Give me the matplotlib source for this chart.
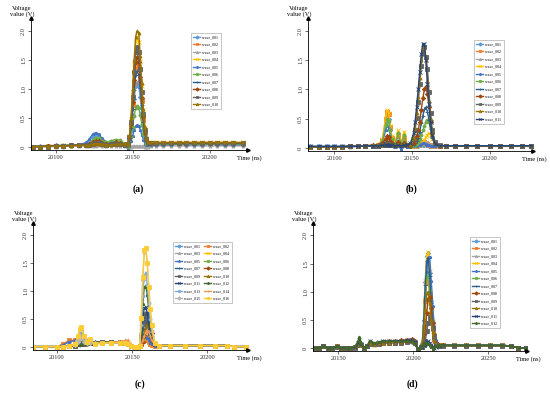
import matplotlib.pyplot as plt

plt.rcParams['font.family'] = ['Liberation Serif', 'DejaVu Serif']

# couleurs et marqueurs des vagues (palette type Excel)
colors = ['#5B9BD5', '#ED7D31', '#A5A5A5', '#FFC000', '#4472C4', '#70AD47', '#255E91', '#9E480E',
          '#636363', '#997300', '#264478', '#43682B', '#7CAFDD', '#F1975A', '#B7B7B7', '#FFCD33']
markers = ['D', 's', '^', 'x', '*', 'o', '+', 'D', 's', '^', 'x', '*', 'o', '+', 'D', 's']

# ---------------- (a) ----------------
a_time = [20085, 20090, 20095, 20100, 20105, 20110, 20115, 20120,
          20122, 20124, 20126, 20128, 20130, 20133, 20136, 20139, 20142, 20145,
          20147, 20148, 20149, 20150, 20151, 20152, 20153, 20154, 20155, 20156, 20157, 20158, 20159, 20160,
          20162,
          20165, 20170, 20175, 20180, 20185, 20190, 20195, 20200, 20205, 20210, 20215, 20222]
a_w01 = [0.01, 0.02, 0.02, 0.03, 0.02, 0.04, 0.03, 0.05,
         0.10, 0.18, 0.21, 0.18, 0.11, 0.07, 0.08, 0.06, 0.05, 0.04,
         0.03, 0.11, 0.28, 0.55, 0.83, 1.05, 1.10, 1.05, 0.86, 0.61, 0.36, 0.19, 0.09, 0.05,
         0.05,
         0.05, 0.05, 0.06, 0.05, 0.05, 0.06, 0.05, 0.06, 0.05, 0.05, 0.06, 0.05]
a_w02 = [0.01, 0.01, 0.02, 0.02, 0.02, 0.03, 0.03, 0.04,
         0.04, 0.06, 0.08, 0.07, 0.05, 0.04, 0.05, 0.06, 0.05, 0.04,
         0.04, 0.15, 0.36, 0.73, 1.09, 1.38, 1.45, 1.38, 1.13, 0.80, 0.48, 0.25, 0.12, 0.06,
         0.06,
         0.06, 0.06, 0.07, 0.06, 0.06, 0.07, 0.06, 0.06, 0.07, 0.06, 0.06, 0.06]
a_w03 = [0.01, 0.01, 0.01, 0.01, 0.01, 0.02, 0.02, 0.02,
         0.02, 0.02, 0.02, 0.03, 0.02, 0.02, 0.02, 0.02, 0.02, 0.02,
         0.01, 0.01, 0.01, 0.02, 0.02, 0.02, 0.02, 0.02, 0.02, 0.02, 0.02, 0.01, 0.01, 0.01,
         0.02,
         0.02, 0.02, 0.02, 0.02, 0.02, 0.02, 0.02, 0.02, 0.02, 0.02, 0.02, 0.02]
a_w04 = [0.01, 0.01, 0.02, 0.02, 0.03, 0.03, 0.03, 0.04,
         0.04, 0.06, 0.07, 0.07, 0.05, 0.05, 0.06, 0.07, 0.06, 0.05,
         0.06, 0.19, 0.48, 0.95, 1.43, 1.80, 1.90, 1.80, 1.48, 1.05, 0.63, 0.32, 0.15, 0.08,
         0.08,
         0.08, 0.08, 0.08, 0.09, 0.08, 0.08, 0.09, 0.08, 0.08, 0.09, 0.08, 0.08]
a_w05 = [0.01, 0.01, 0.02, 0.03, 0.03, 0.03, 0.04, 0.08,
         0.14, 0.22, 0.25, 0.22, 0.15, 0.09, 0.10, 0.09, 0.06, 0.03,
         -0.03, 0.02, 0.10, 0.19, 0.29, 0.36, 0.38, 0.36, 0.30, 0.21, 0.13, 0.06, 0.04, 0.04,
         0.04,
         0.04, 0.04, 0.04, 0.05, 0.04, 0.04, 0.04, 0.05, 0.04, 0.04, 0.04, 0.04]
a_w06 = [0.01, 0.01, 0.02, 0.02, 0.03, 0.03, 0.03, 0.04,
         0.06, 0.12, 0.16, 0.15, 0.10, 0.08, 0.11, 0.13, 0.12, 0.06,
         0.00, 0.07, 0.18, 0.35, 0.53, 0.67, 0.70, 0.67, 0.55, 0.39, 0.23, 0.12, 0.06, 0.05,
         0.05,
         0.05, 0.05, 0.05, 0.05, 0.06, 0.05, 0.05, 0.05, 0.05, 0.06, 0.05, 0.05]
a_w07 = [0.01, 0.01, 0.02, 0.02, 0.02, 0.03, 0.03, 0.04,
         0.05, 0.08, 0.10, 0.09, 0.06, 0.05, 0.06, 0.07, 0.06, 0.05,
         0.04, 0.13, 0.33, 0.65, 0.98, 1.24, 1.30, 1.24, 1.01, 0.72, 0.43, 0.22, 0.10, 0.06,
         0.06,
         0.06, 0.06, 0.06, 0.06, 0.06, 0.06, 0.06, 0.06, 0.06, 0.06, 0.06, 0.06]
a_w08 = [0.01, 0.01, 0.02, 0.02, 0.02, 0.03, 0.03, 0.04,
         0.05, 0.08, 0.10, 0.10, 0.07, 0.05, 0.06, 0.08, 0.07, 0.05,
         0.05, 0.16, 0.39, 0.78, 1.16, 1.47, 1.55, 1.47, 1.21, 0.85, 0.51, 0.26, 0.12, 0.07,
         0.07,
         0.07, 0.07, 0.07, 0.07, 0.07, 0.07, 0.07, 0.07, 0.07, 0.07, 0.07, 0.07]
a_w09 = [0.01, 0.01, 0.01, 0.02, 0.02, 0.03, 0.03, 0.03,
         0.04, 0.06, 0.07, 0.07, 0.05, 0.04, 0.05, 0.06, 0.05, 0.04,
         0.05, 0.17, 0.43, 0.86, 1.29, 1.63, 1.72, 1.63, 1.34, 0.95, 0.57, 0.29, 0.14, 0.07,
         0.07,
         0.07, 0.07, 0.07, 0.07, 0.07, 0.07, 0.07, 0.07, 0.07, 0.07, 0.07, 0.07]
a_w10 = [0.01, 0.01, 0.01, 0.02, 0.02, 0.02, 0.03, 0.03,
         0.03, 0.05, 0.06, 0.06, 0.05, 0.04, 0.04, 0.05, 0.05, 0.05,
         0.06, 0.20, 0.50, 1.00, 1.50, 1.90, 2.00, 1.97, 1.56, 1.10, 0.66, 0.34, 0.16, 0.08,
         0.08,
         0.08, 0.08, 0.08, 0.08, 0.08, 0.08, 0.08, 0.08, 0.08, 0.08, 0.08, 0.08]
a_waves = [a_w01, a_w02, a_w03, a_w04, a_w05, a_w06, a_w07, a_w08, a_w09, a_w10]

# ---------------- (b) ----------------
b_time = [20084, 20090, 20095, 20100, 20105, 20110, 20115, 20120, 20125,
          20128, 20131, 20133, 20134, 20135, 20136, 20137, 20139, 20141, 20143, 20145, 20147,
          20149, 20151, 20152, 20153, 20154, 20155, 20156, 20157, 20158, 20159, 20160, 20161, 20162, 20163, 20165, 20168,
          20172, 20178, 20185, 20192, 20200, 20207, 20214, 20221, 20227]
b_w01 = [0.03, 0.03, 0.03, 0.03, 0.03, 0.03, 0.03, 0.03, 0.04,
         0.05, 0.12, 0.42, 0.55, 0.50, 0.30, 0.15, 0.05, 0.20, 0.06, 0.15, 0.04,
         0.03, 0.03, 0.03, 0.04, 0.04, 0.05, 0.05, 0.06, 0.06, 0.05, 0.05, 0.04, 0.04, 0.03, 0.03, 0.03,
         0.03, 0.03, 0.03, 0.03, 0.03, 0.03, 0.03, 0.03, 0.03]
b_w02 = [0.02, 0.02, 0.02, 0.02, 0.02, 0.03, 0.03, 0.03, 0.04,
         0.05, 0.14, 0.50, 0.62, 0.58, 0.36, 0.18, 0.07, 0.22, 0.07, 0.18, 0.05,
         0.03, 0.03, 0.04, 0.05, 0.06, 0.08, 0.09, 0.10, 0.10, 0.09, 0.07, 0.06, 0.05, 0.04, 0.03, 0.03,
         0.03, 0.03, 0.03, 0.03, 0.03, 0.03, 0.03, 0.03, 0.03]
b_w03 = [0.02, 0.02, 0.02, 0.02, 0.02, 0.02, 0.03, 0.03, 0.03,
         0.04, 0.05, 0.08, 0.10, 0.09, 0.07, 0.05, 0.04, 0.06, 0.04, 0.05, 0.04,
         0.03, 0.03, 0.04, 0.05, 0.06, 0.08, 0.10, 0.11, 0.12, 0.11, 0.09, 0.07, 0.05, 0.04, 0.03, 0.03,
         0.03, 0.03, 0.03, 0.03, 0.03, 0.03, 0.03, 0.03, 0.03]
b_w04 = [0.02, 0.02, 0.02, 0.02, 0.02, 0.03, 0.03, 0.03, 0.04,
         0.05, 0.15, 0.52, 0.65, 0.60, 0.38, 0.20, 0.08, 0.30, 0.10, 0.28, 0.06,
         0.03, 0.03, 0.04, 0.04, 0.05, 0.06, 0.08, 0.10, 0.14, 0.19, 0.23, 0.25, 0.22, 0.15, 0.07, 0.04,
         0.04, 0.03, 0.03, 0.03, 0.03, 0.03, 0.03, 0.03, 0.03]
b_w05 = [0.02, 0.02, 0.02, 0.02, 0.02, 0.02, 0.03, 0.03, 0.03,
         0.04, 0.10, 0.30, 0.38, 0.35, 0.22, 0.10, 0.02, 0.12, -0.02, 0.10, 0.02,
         0.02, 0.03, 0.03, 0.04, 0.05, 0.06, 0.07, 0.08, 0.08, 0.07, 0.06, 0.05, 0.04, 0.03, 0.03, 0.03,
         0.03, 0.03, 0.03, 0.03, 0.03, 0.03, 0.03, 0.03, 0.03]
b_w06 = [0.02, 0.02, 0.02, 0.02, 0.02, 0.03, 0.03, 0.03, 0.04,
         0.05, 0.12, 0.40, 0.50, 0.47, 0.30, 0.15, 0.06, 0.25, 0.08, 0.22, 0.05,
         0.03, 0.04, 0.05, 0.07, 0.10, 0.15, 0.22, 0.30, 0.38, 0.45, 0.48, 0.44, 0.34, 0.20, 0.08, 0.04,
         0.04, 0.03, 0.03, 0.03, 0.03, 0.03, 0.03, 0.03, 0.03]
b_w07 = [0.02, 0.02, 0.02, 0.02, 0.02, 0.03, 0.03, 0.03, 0.04,
         0.04, 0.06, 0.10, 0.12, 0.11, 0.08, 0.06, 0.04, 0.08, 0.04, 0.06, 0.04,
         0.03, 0.05, 0.08, 0.12, 0.18, 0.28, 0.42, 0.55, 0.66, 0.70, 0.62, 0.48, 0.32, 0.18, 0.07, 0.04,
         0.04, 0.04, 0.03, 0.03, 0.03, 0.03, 0.03, 0.03, 0.03]
b_w08 = [0.02, 0.02, 0.02, 0.02, 0.02, 0.03, 0.03, 0.04, 0.05,
         0.05, 0.08, 0.16, 0.20, 0.19, 0.12, 0.08, 0.05, 0.10, 0.05, 0.08, 0.05,
         0.04, 0.08, 0.13, 0.20, 0.30, 0.45, 0.65, 0.85, 1.00, 1.05, 0.92, 0.70, 0.45, 0.25, 0.08, 0.04,
         0.04, 0.04, 0.04, 0.03, 0.03, 0.03, 0.03, 0.03, 0.03]
b_w09 = [0.02, 0.02, 0.02, 0.02, 0.02, 0.03, 0.03, 0.04, 0.04,
         0.04, 0.05, 0.06, 0.07, 0.07, 0.06, 0.05, 0.05, 0.05, 0.05, 0.06, 0.05,
         0.05, 0.15, 0.30, 0.52, 0.78, 1.10, 1.40, 1.62, 1.72, 1.55, 1.35, 0.95, 0.60, 0.30, 0.10, 0.05,
         0.04, 0.04, 0.04, 0.04, 0.03, 0.03, 0.03, 0.03, 0.03]
b_w10 = [0.02, 0.02, 0.02, 0.02, 0.02, 0.03, 0.03, 0.04, 0.05,
         0.05, 0.06, 0.06, 0.07, 0.07, 0.07, 0.06, 0.06, 0.07, 0.06, 0.07, 0.06,
         0.06, 0.18, 0.35, 0.60, 0.88, 1.20, 1.50, 1.72, 1.75, 1.50, 1.15, 0.80, 0.50, 0.25, 0.08, 0.04,
         0.04, 0.04, 0.04, 0.04, 0.04, 0.04, 0.04, 0.04, 0.04]
b_w11 = [0.03, 0.03, 0.03, 0.03, 0.03, 0.03, 0.03, 0.04, 0.04,
         0.04, 0.05, 0.05, 0.06, 0.06, 0.05, 0.05, 0.04, 0.05, 0.04, 0.05, 0.05,
         0.08, 0.25, 0.45, 0.70, 1.00, 1.30, 1.60, 1.78, 1.78, 1.50, 1.10, 0.75, 0.45, 0.22, 0.07, 0.04,
         0.04, 0.04, 0.04, 0.04, 0.04, 0.04, 0.04, 0.04, 0.04]
b_waves = [b_w01, b_w02, b_w03, b_w04, b_w05, b_w06, b_w07, b_w08, b_w09, b_w10, b_w11]

# ---------------- (c) ----------------
c_time = [20084, 20092, 20100,
          20104, 20108, 20112, 20114, 20115, 20116, 20118, 20120, 20122, 20125,
          20130, 20136, 20142, 20145, 20147, 20149, 20152, 20154,
          20155, 20156, 20157, 20158, 20159, 20160, 20161, 20162, 20163, 20165, 20168,
          20175, 20185, 20195, 20205, 20213, 20218, 20226]
c_w01 = [0.01, 0.01, 0.01,
         0.03, 0.10, 0.12, 0.20, 0.28, 0.30, 0.18, 0.10, 0.10, 0.09,
         0.09, 0.09, 0.08, 0.07, 0.05, 0.02, 0.01, 0.01,
         0.02, 0.15, 0.35, 0.49, 0.50, 0.43, 0.30, 0.19, 0.11, 0.04, 0.03,
         0.03, 0.03, 0.03, 0.03, 0.03, 0.01, 0.01]
c_w02 = [0.01, 0.01, 0.01,
         0.06, 0.12, 0.12, 0.12, 0.11, 0.10, 0.09, 0.09, 0.08, 0.08,
         0.08, 0.08, 0.08, 0.07, 0.05, 0.02, 0.01, 0.01,
         0.02, 0.05, 0.11, 0.15, 0.15, 0.13, 0.09, 0.06, 0.04, 0.03, 0.03,
         0.03, 0.03, 0.03, 0.03, 0.03, 0.01, 0.01]
c_w03 = [0.01, 0.01, 0.01,
         0.01, 0.02, 0.04, 0.08, 0.12, 0.12, 0.08, 0.06, 0.07, 0.07,
         0.08, 0.08, 0.09, 0.08, 0.06, 0.03, 0.01, 0.01,
         0.02, 0.09, 0.21, 0.29, 0.30, 0.26, 0.18, 0.11, 0.07, 0.04, 0.03,
         0.03, 0.03, 0.03, 0.03, 0.03, 0.01, 0.01]
c_w04 = [0.01, 0.01, 0.01,
         0.01, 0.02, 0.05, 0.12, 0.20, 0.22, 0.12, 0.08, 0.12, 0.07,
         0.08, 0.09, 0.09, 0.08, 0.05, 0.02, 0.01, 0.00,
         0.02, 0.08, 0.18, 0.24, 0.25, 0.21, 0.15, 0.10, 0.06, 0.04, 0.03,
         0.03, 0.03, 0.03, 0.03, 0.03, 0.01, 0.01]
c_w05 = [0.01, 0.01, 0.01,
         0.04, 0.10, 0.12, 0.18, 0.24, 0.25, 0.15, 0.10, 0.09, 0.08,
         0.08, 0.08, 0.08, 0.07, 0.05, 0.02, 0.01, 0.01,
         0.02, 0.06, 0.14, 0.19, 0.20, 0.17, 0.12, 0.08, 0.05, 0.03, 0.03,
         0.03, 0.03, 0.03, 0.03, 0.03, 0.01, 0.01]
c_w06 = [0.01, 0.01, 0.01,
         0.01, 0.02, 0.04, 0.10, 0.15, 0.12, 0.08, 0.06, 0.08, 0.08,
         0.08, 0.09, 0.09, 0.08, 0.05, 0.02, 0.01, 0.00,
         0.02, 0.06, 0.15, 0.26, 0.33, 0.35, 0.30, 0.20, 0.12, 0.05, 0.03,
         0.03, 0.03, 0.03, 0.03, 0.03, 0.01, 0.01]
c_w07 = [0.01, 0.01, 0.01,
         0.01, 0.02, 0.03, 0.06, 0.08, 0.08, 0.07, 0.06, 0.07, 0.08,
         0.09, 0.09, 0.09, 0.08, 0.05, 0.02, 0.01, 0.01,
         0.02, 0.14, 0.32, 0.44, 0.45, 0.38, 0.27, 0.17, 0.10, 0.04, 0.03,
         0.03, 0.03, 0.03, 0.03, 0.03, 0.01, 0.01]
c_w08 = [0.01, 0.01, 0.01,
         0.01, 0.02, 0.03, 0.05, 0.07, 0.07, 0.06, 0.07, 0.08, 0.08,
         0.09, 0.09, 0.09, 0.08, 0.06, 0.02, 0.01, 0.00,
         0.02, 0.04, 0.10, 0.20, 0.32, 0.40, 0.42, 0.35, 0.25, 0.08, 0.03,
         0.03, 0.03, 0.03, 0.03, 0.03, 0.01, 0.01]
c_w09 = [0.01, 0.01, 0.01,
         0.01, 0.02, 0.03, 0.05, 0.06, 0.06, 0.06, 0.07, 0.08, 0.08,
         0.09, 0.09, 0.08, 0.08, 0.05, 0.02, 0.01, 0.01,
         0.02, 0.18, 0.42, 0.58, 0.60, 0.51, 0.36, 0.23, 0.13, 0.05, 0.03,
         0.03, 0.03, 0.03, 0.03, 0.03, 0.01, 0.01]
c_w10 = [0.01, 0.01, 0.01,
         0.01, 0.02, 0.03, 0.05, 0.06, 0.06, 0.06, 0.07, 0.08, 0.09,
         0.09, 0.09, 0.09, 0.08, 0.06, 0.02, 0.01, 0.00,
         0.02, 0.05, 0.12, 0.22, 0.33, 0.40, 0.38, 0.30, 0.20, 0.07, 0.03,
         0.03, 0.03, 0.03, 0.03, 0.03, 0.01, 0.01]
c_w11 = [0.01, 0.01, 0.01,
         0.01, 0.02, 0.03, 0.04, 0.05, 0.05, 0.06, 0.07, 0.08, 0.08,
         0.09, 0.09, 0.09, 0.08, 0.05, 0.01, 0.00, 0.00,
         0.02, 0.22, 0.50, 0.70, 0.72, 0.61, 0.43, 0.27, 0.16, 0.05, 0.03,
         0.03, 0.03, 0.03, 0.03, 0.03, 0.01, 0.01]
c_w12 = [0.01, 0.01, 0.01,
         0.01, 0.02, 0.03, 0.05, 0.06, 0.06, 0.06, 0.07, 0.08, 0.09,
         0.09, 0.10, 0.09, 0.08, 0.04, 0.01, 0.00, 0.00,
         0.02, 0.33, 0.77, 1.07, 1.10, 0.94, 0.66, 0.42, 0.24, 0.07, 0.03,
         0.03, 0.03, 0.03, 0.03, 0.03, 0.01, 0.01]
c_w13 = [0.01, 0.01, 0.01,
         0.01, 0.02, 0.05, 0.15, 0.25, 0.30, 0.15, 0.08, 0.10, 0.06,
         0.08, 0.08, 0.08, 0.07, 0.05, 0.02, 0.01, 0.01,
         0.03, 0.40, 0.92, 1.28, 1.32, 1.12, 0.79, 0.50, 0.29, 0.07, 0.03,
         0.03, 0.03, 0.03, 0.03, 0.03, 0.01, 0.01]
c_w14 = [0.01, 0.01, 0.01,
         0.01, 0.02, 0.06, 0.20, 0.30, 0.35, 0.20, 0.12, 0.12, 0.06,
         0.08, 0.09, 0.10, 0.12, 0.13, 0.06, 0.01, 0.00,
         0.02, 0.05, 0.12, 0.20, 0.27, 0.30, 0.27, 0.20, 0.12, 0.05, 0.03,
         0.03, 0.03, 0.03, 0.03, 0.03, 0.01, 0.01]
c_w15 = [0.01, 0.01, 0.01,
         0.01, 0.02, 0.04, 0.10, 0.15, 0.18, 0.10, 0.07, 0.08, 0.07,
         0.08, 0.08, 0.08, 0.07, 0.05, 0.02, 0.01, 0.01,
         0.03, 0.50, 1.20, 1.70, 1.75, 1.50, 1.05, 0.66, 0.38, 0.08, 0.03,
         0.03, 0.03, 0.03, 0.03, 0.03, 0.01, 0.01]
c_w16 = [0.01, 0.01, 0.01,
         0.01, 0.02, 0.05, 0.20, 0.33, 0.37, 0.20, 0.10, 0.15, 0.05,
         0.07, 0.08, 0.08, 0.07, 0.05, 0.02, 0.01, 0.01,
         0.03, 0.53, 1.25, 1.73, 1.78, 1.51, 1.07, 0.68, 0.39, 0.08, 0.03,
         0.03, 0.03, 0.03, 0.03, 0.03, 0.01, 0.01]
c_waves = [c_w01, c_w02, c_w03, c_w04, c_w05, c_w06, c_w07, c_w08,
           c_w09, c_w10, c_w11, c_w12, c_w13, c_w14, c_w15, c_w16]

# ---------------- (d) ----------------
d_time = [20134, 20137, 20140, 20143, 20146, 20149, 20152, 20155, 20158,
          20161, 20163, 20164, 20165, 20167, 20169, 20171, 20174, 20177, 20180, 20184, 20188, 20192, 20196, 20199, 20201, 20203, 20205,
          20206, 20207, 20208, 20209, 20210, 20211, 20212, 20213, 20214, 20215, 20217,
          20220, 20227, 20235, 20243, 20251, 20259, 20265, 20270, 20275]
d_w01 = [0.00, 0.01, 0.04, 0.00, 0.01, 0.03, 0.00, 0.01, 0.01,
         0.02, 0.08, 0.12, 0.07, 0.01, 0.03, 0.10, 0.07, 0.09, 0.11, 0.10, 0.11, 0.10, 0.11, 0.11, 0.09, -0.02, 0.02,
         0.08, 0.50, 1.18, 1.63, 1.68, 1.34, 0.84, 0.47, 0.22, 0.07, 0.05,
         0.05, 0.05, 0.05, 0.05, 0.05, 0.05, 0.04, 0.01, 0.00]
d_w02 = [0.00, 0.01, 0.03, 0.00, 0.01, 0.03, 0.00, 0.01, 0.01,
         0.02, 0.06, 0.10, 0.06, 0.01, 0.03, 0.09, 0.07, 0.08, 0.10, 0.10, 0.10, 0.11, 0.12, 0.13, 0.10, -0.01, 0.02,
         0.06, 0.36, 0.84, 1.16, 1.20, 0.96, 0.60, 0.34, 0.16, 0.07, 0.05,
         0.05, 0.05, 0.05, 0.05, 0.05, 0.05, 0.04, 0.01, 0.00]
d_w03 = [0.00, 0.01, 0.03, 0.00, 0.01, 0.02, 0.00, 0.01, 0.01,
         0.01, 0.05, 0.08, 0.05, 0.01, 0.03, 0.08, 0.06, 0.08, 0.09, 0.09, 0.10, 0.10, 0.11, 0.11, 0.08, -0.02, 0.02,
         0.07, 0.42, 0.98, 1.36, 1.40, 1.12, 0.70, 0.39, 0.18, 0.07, 0.05,
         0.05, 0.05, 0.05, 0.05, 0.05, 0.05, 0.04, 0.01, 0.00]
d_w04 = [0.00, 0.01, 0.04, 0.00, 0.01, 0.03, 0.00, 0.01, 0.01,
         0.02, 0.07, 0.11, 0.06, 0.01, 0.03, 0.10, 0.06, 0.09, 0.10, 0.09, 0.10, 0.11, 0.12, 0.12, 0.09, -0.02, 0.02,
         0.08, 0.51, 1.19, 1.65, 1.70, 1.36, 0.85, 0.48, 0.22, 0.07, 0.05,
         0.05, 0.05, 0.05, 0.05, 0.05, 0.05, 0.04, 0.01, 0.00]
d_w05 = [0.00, 0.01, 0.04, 0.00, 0.01, 0.03, 0.00, 0.01, 0.01,
         0.02, 0.09, 0.14, 0.07, 0.01, 0.03, 0.12, 0.08, 0.10, 0.12, 0.11, 0.12, 0.12, 0.13, 0.14, 0.11, -0.03, 0.02,
         0.05, 0.30, 0.85, 1.35, 1.60, 1.62, 1.20, 0.75, 0.40, 0.15, 0.06,
         0.05, 0.05, 0.05, 0.05, 0.05, 0.05, 0.04, 0.01, 0.00]
d_w06 = [0.00, 0.01, 0.03, 0.00, 0.01, 0.03, 0.00, 0.01, 0.01,
         0.02, 0.06, 0.10, 0.06, 0.01, 0.03, 0.09, 0.07, 0.09, 0.10, 0.10, 0.11, 0.10, 0.11, 0.12, 0.09, -0.02, 0.02,
         0.06, 0.39, 0.91, 1.26, 1.30, 1.04, 0.65, 0.36, 0.17, 0.07, 0.05,
         0.05, 0.05, 0.05, 0.05, 0.05, 0.05, 0.04, 0.01, 0.00]
d_w07 = [0.00, 0.01, 0.04, 0.00, 0.01, 0.03, 0.00, 0.01, 0.01,
         0.02, 0.08, 0.13, 0.07, 0.01, 0.03, 0.11, 0.08, 0.10, 0.12, 0.12, 0.13, 0.12, 0.13, 0.14, 0.11, -0.02, 0.02,
         0.08, 0.48, 1.12, 1.55, 1.60, 1.28, 0.80, 0.45, 0.21, 0.07, 0.05,
         0.05, 0.05, 0.05, 0.05, 0.05, 0.05, 0.04, 0.01, 0.00]
d_w08 = [0.00, 0.01, 0.03, 0.00, 0.01, 0.03, 0.00, 0.01, 0.01,
         0.02, 0.06, 0.10, 0.06, 0.01, 0.03, 0.10, 0.08, 0.10, 0.11, 0.12, 0.13, 0.14, 0.15, 0.16, 0.12, -0.01, 0.02,
         0.03, 0.10, 0.27, 0.63, 0.87, 0.90, 0.72, 0.45, 0.25, 0.10, 0.05,
         0.05, 0.04, 0.04, 0.04, 0.04, 0.04, 0.04, 0.01, 0.00]
d_w09 = [0.00, 0.01, 0.03, 0.00, 0.01, 0.02, 0.00, 0.01, 0.01,
         0.01, 0.05, 0.08, 0.05, 0.01, 0.03, 0.08, 0.07, 0.08, 0.09, 0.09, 0.10, 0.10, 0.11, 0.12, 0.09, -0.01, 0.02,
         0.02, 0.05, 0.12, 0.30, 0.45, 0.55, 0.50, 0.35, 0.20, 0.08, 0.04,
         0.04, 0.04, 0.04, 0.04, 0.04, 0.04, 0.04, 0.01, 0.00]
d_w10 = [0.00, 0.01, 0.03, 0.00, 0.01, 0.03, 0.00, 0.01, 0.01,
         0.02, 0.07, 0.11, 0.06, 0.01, 0.03, 0.10, 0.07, 0.09, 0.10, 0.10, 0.11, 0.11, 0.12, 0.12, 0.10, -0.02, 0.02,
         0.05, 0.30, 0.70, 0.97, 1.00, 0.80, 0.50, 0.28, 0.13, 0.07, 0.05,
         0.05, 0.05, 0.05, 0.05, 0.05, 0.05, 0.04, 0.01, 0.00]
d_w11 = [0.00, 0.01, 0.04, 0.00, 0.01, 0.03, 0.00, 0.01, 0.01,
         0.02, 0.09, 0.15, 0.07, 0.01, 0.03, 0.12, 0.09, 0.11, 0.13, 0.12, 0.13, 0.13, 0.14, 0.14, 0.11, -0.02, 0.02,
         0.02, 0.05, 0.08, 0.11, 0.12, 0.10, 0.06, 0.03, 0.00, 0.02, 0.04,
         0.05, 0.05, 0.05, 0.05, 0.05, 0.05, 0.04, 0.01, 0.00]
d_w12 = [0.00, 0.01, 0.04, 0.00, 0.01, 0.03, 0.00, 0.01, 0.01,
         0.03, 0.12, 0.20, 0.10, 0.01, 0.04, 0.13, 0.09, 0.11, 0.13, 0.12, 0.12, 0.12, 0.13, 0.12, 0.09, -0.03, 0.02,
         0.03, 0.07, 0.10, 0.10, 0.08, 0.05, 0.02, -0.01, 0.02, 0.04, 0.05,
         0.05, 0.05, 0.05, 0.05, 0.05, 0.05, 0.04, 0.01, 0.00]
d_waves = [d_w01, d_w02, d_w03, d_w04, d_w05, d_w06, d_w07, d_w08, d_w09, d_w10, d_w11, d_w12]

y_ticks = [0, 0.5, 1.0, 1.5, 2.0]
y_tick_labels = ['0', '0.5', '1.0', '1.5', '2.0']

W, H = 550, 396
fig = plt.figure(figsize=(W / 100, H / 100), dpi=100)


def tracer(px, temps, vagues, xticks, xlim, leg_px, lettre, lettre_px, ncol=1):
    # px = (gauche, haut, droite, bas) en pixels de l'image
    g, h, d, b = px
    ax = fig.add_axes([g / W, 1 - b / H, (d - g) / W, (b - h) / H])
    lignes = []
    for i, v in enumerate(vagues):
        l, = ax.plot(temps, v, color=colors[i], marker=markers[i], ms=2.2, mew=0.6,
                     lw=1.0, label='wave_%03d' % (i + 1))
        lignes.append(l)
    ax.set_xlim(xlim)
    ax.set_ylim(-0.05, 2.22)
    ax.set_xticks(xticks)
    ax.set_xticklabels([str(t) for t in xticks])
    ax.set_yticks(y_ticks)
    ax.set_yticklabels(y_tick_labels, rotation=90, va='center')
    ax.tick_params(labelsize=4.6, length=2, width=0.5, pad=1.5, colors='#333333')
    for s in ['top', 'right']:
        ax.spines[s].set_visible(False)
    for s in ['left', 'bottom']:
        ax.spines[s].set_linewidth(0.6)
    # fleches au bout des axes
    ax.plot([1], [0], '>', color='k', ms=2.5, transform=ax.transAxes, clip_on=False)
    ax.plot([0], [1], '^', color='k', ms=2.5, transform=ax.transAxes, clip_on=False)
    ax.annotate('Voltage\nvalue (V)', xy=(0, 1), xycoords='axes fraction', xytext=(-6.5, 4.5),
                textcoords='offset points', ha='center', va='center', fontsize=4.6,
                multialignment='center', linespacing=1.1)
    ax.annotate('Time (ns)', xy=(1, 0), xycoords='axes fraction', xytext=(1, -6),
                textcoords='offset points', ha='center', va='center', fontsize=4.6)
    if ncol == 2:
        lignes = lignes[0::2] + lignes[1::2]
    leg = ax.legend(handles=lignes, loc='upper left', bbox_to_anchor=(leg_px[0] / W, 1 - leg_px[1] / H),
                    bbox_transform=fig.transFigure, ncol=ncol, fontsize=2.8, frameon=True,
                    fancybox=False, edgecolor='#999999', borderpad=0.6, labelspacing=0.9,
                    handlelength=1.8, handletextpad=0.5, columnspacing=1.0, borderaxespad=0,
                    markerscale=0.8)
    leg.get_frame().set_linewidth(0.5)
    fig.text(lettre_px[0] / W, 1 - lettre_px[1] / H, lettre, ha='center', va='center',
             fontsize=7, fontweight='bold')
    return ax


tracer((31, 18, 248, 150), a_time, a_waves, [20100, 20150, 20200], (20084, 20225),
       (191, 33), '(a)', (138, 189))
tracer((308, 18, 533, 151), b_time, b_waves, [20100, 20150, 20200], (20083, 20228),
       (474, 40), '(b)', (412, 189))
tracer((33, 223, 248, 350), c_time, c_waves, [20100, 20150, 20200], (20084, 20227),
       (173, 242), '(c)', (140, 384), ncol=2)
tracer((313, 223, 527, 351), d_time, d_waves, [20150, 20200, 20250], (20133, 20276),
       (470, 237), '(d)', (412, 384))

fig.savefig('out.png', dpi=100)
